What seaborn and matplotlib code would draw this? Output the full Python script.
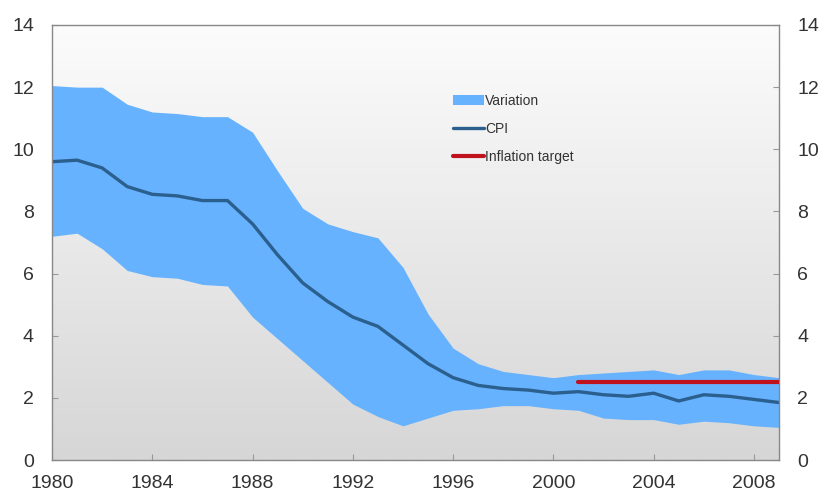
import numpy as np
import pandas as pd
import matplotlib
matplotlib.use("Agg")
import matplotlib.pyplot as plt
import seaborn as sns

years = list(range(1980, 2010))
cpi = [9.6, 9.65, 9.4, 8.8, 8.55, 8.5, 8.35, 8.35, 7.6, 6.6,
       5.7, 5.1, 4.6, 4.3, 3.7, 3.1, 2.65, 2.4, 2.3, 2.25,
       2.15, 2.2, 2.1, 2.05, 2.15, 1.9, 2.1, 2.05, 1.95, 1.85]
upper = [12.05, 12.0, 12.0, 11.45, 11.2, 11.15, 11.05, 11.05, 10.55, 9.3,
         8.1, 7.6, 7.35, 7.15, 6.2, 4.7, 3.6, 3.1, 2.85, 2.75,
         2.65, 2.75, 2.8, 2.85, 2.9, 2.75, 2.9, 2.9, 2.75, 2.65]
lower = [7.2, 7.3, 6.8, 6.1, 5.9, 5.85, 5.65, 5.6, 4.6, 3.9,
         3.2, 2.5, 1.8, 1.4, 1.1, 1.35, 1.6, 1.65, 1.75, 1.75,
         1.65, 1.6, 1.35, 1.3, 1.3, 1.15, 1.25, 1.2, 1.1, 1.05]
target_years = [2001, 2009]
target = [2.5, 2.5]
yticks = [0, 2, 4, 6, 8, 10, 12, 14]
xticks = [1980, 1984, 1988, 1992, 1996, 2000, 2004, 2008]

df = pd.DataFrame({"year": years, "cpi": cpi, "upper": upper, "lower": lower})
tg = pd.DataFrame({"year": target_years, "target": target})

sns.set_style("white")
plt.rcParams['font.family'] = ['Liberation Sans Narrow', 'Liberation Sans', 'DejaVu Sans']

f = plt.figure(figsize=(8.24, 4.95), dpi=100)
ax = f.add_axes([0.0631, 0.0707, 0.8823, 0.8788])

# gradient background, light at top, grey at bottom
grad = np.linspace(0, 1, 256).reshape(-1, 1)
cmap = matplotlib.colors.LinearSegmentedColormap.from_list("bg", ["#fcfcfc", "#d6d6d6"])
ax.imshow(grad, extent=[1980, 2009, 0, 14], origin="upper", aspect="auto", cmap=cmap, zorder=0)

ax.fill_between(df["year"], df["lower"], df["upper"], color="#66b2ff", lw=0, zorder=1, label="Variation")
sns.lineplot(data=df, x="year", y="cpi", ax=ax, color="#2b5f8e", lw=2.4, zorder=2, label="CPI")
sns.lineplot(data=tg, x="year", y="target", ax=ax, color="#c0121c", lw=3, zorder=3, label="Inflation target")

ax.set_xlim(1980, 2009)
ax.set_ylim(0, 14)
ax.set_xticks(xticks)
ax.set_yticks(yticks)
ax.set_xlabel("")
ax.set_ylabel("")
ax.tick_params(axis="both", direction="in", length=4, color="#999999", labelsize=14, labelcolor="#333333")
ax.tick_params(axis="y", right=True, labelright=True, left=True, pad=13)
ax.tick_params(axis="x", bottom=True, pad=11)
for s in ax.spines.values():
    s.set_color("#888888")
    s.set_linewidth(1)

leg = ax.legend(loc="upper left", bbox_to_anchor=(0.535, 0.87), frameon=False,
                fontsize=10, handlelength=2.2, handletextpad=0.1, labelspacing=1.0)
for t in leg.get_texts():
    t.set_color("#333333")

f.savefig("out.png", dpi=100)
